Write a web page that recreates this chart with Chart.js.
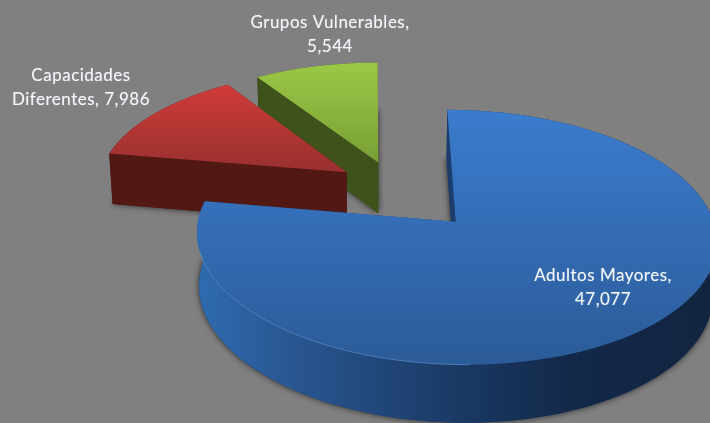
<!DOCTYPE html>
<html>
<head>
<meta charset="utf-8">
<script src="https://cdn.jsdelivr.net/npm/chart.js@4"></script>
<style>
  html, body { margin: 0; padding: 0; background: #808080; }
  canvas { display: block; }
</style>
</head>
<body>
<canvas id="chart" width="710" height="423"></canvas>
<script>
const categories = ['Adultos Mayores', 'Capacidades Diferentes', 'Grupos Vulnerables'];
const values = [47077, 7986, 5544];

const topColors = [['#3b7cce', '#2b5b98'], ['#d03c39', '#97302f'], ['#9cc846', '#789f35']];
const wallColors = ['#1b3d6c', '#521814', '#40521c'];
const labelLines = [
  ['Adultos Mayores,', '47,077'],
  ['Capacidades', 'Diferentes, 7,986'],
  ['Grupos Vulnerables,', '5,544']
];
const labelSpots = [[603, 276], [81, 76], [330, 23]];
const sliceNudge = [[0, 0], [3.5, -2.5], [-5.5, 1.5]];

// screen mapping of the pie plane, fitted by hand to the tilted view
const VX = 378, AX = 455, AY = 222, SX = 258, SY = 125.6, PERSP = 0.1215;
const DEPTH = 53, SHRINK = 0.988;

function project(u, v, low, nudge) {
  const uu = u - 0.19, vv = v + 0.23;
  const f = 1 / (1 + PERSP * vv);
  let x = VX + (AX - VX + SX * uu) * f + nudge[0];
  let y = AY - SY * vv * f + nudge[1];
  if (low) {
    x = VX + (x - VX) * SHRINK;
    y += DEPTH * Math.pow(f, 0.7);
  }
  return [x, y];
}

function tracePath(ctx, pts) {
  ctx.beginPath();
  pts.forEach((p, i) => (i ? ctx.lineTo(p[0], p[1]) : ctx.moveTo(p[0], p[1])));
  ctx.closePath();
}

function rimPoints(arc, low, nudge) {
  const { startAngle, endAngle, outerRadius } = arc.getProps(['startAngle', 'endAngle', 'outerRadius'], true);
  const mid = (startAngle + endAngle) / 2;
  const off = arc.options.offset / outerRadius;
  const ox = Math.cos(mid) * off, oy = -Math.sin(mid) * off;
  const pts = [];
  for (let i = 0; i <= 120; i++) {
    const a = startAngle + (endAngle - startAngle) * i / 120;
    pts.push(project(ox + Math.cos(a), oy - Math.sin(a), low, nudge));
  }
  return { pts, apex: project(ox, oy, low, nudge), ox, oy, startAngle, endAngle };
}

const pie3d = {
  id: 'pie3d',
  beforeDatasetDraw(chart) {
    const { ctx } = chart;
    const arcs = chart.getDatasetMeta(0).data;
    // far slices first, blue sits in front
    [2, 1, 0].forEach((i) => {
      const up = rimPoints(arcs[i], false, sliceNudge[i]);
      const down = rimPoints(arcs[i], true, sliceNudge[i]);
      const first = up.pts[0], last = up.pts[120];
      const firstLow = down.pts[0], lastLow = down.pts[120];

      // bottom face casts the soft shadow
      ctx.save();
      ctx.shadowColor = 'rgba(0,0,0,0.7)';
      ctx.shadowBlur = 6;
      ctx.fillStyle = wallColors[i];
      tracePath(ctx, [down.apex, ...down.pts]);
      ctx.fill();
      ctx.restore();

      // outer rim
      let rim = wallColors[i];
      if (i === 0) {
        rim = ctx.createLinearGradient(197, 0, 710, 0);
        rim.addColorStop(0, '#2f6bb0');
        rim.addColorStop(0.2, '#28558f');
        rim.addColorStop(0.5, '#1a3a66');
        rim.addColorStop(0.72, '#13294a');
        rim.addColorStop(1, '#12243f');
      }
      ctx.fillStyle = rim;
      tracePath(ctx, [...up.pts, ...down.pts.slice().reverse()]);
      ctx.fill();

      // cut faces, further one first
      const walls = [[first, firstLow], [last, lastLow]];
      const angles = [up.startAngle, up.endAngle];
      const order = [0, 1].sort((a, b) => Math.sin(angles[a]) - Math.sin(angles[b]));
      order.forEach((w) => {
        ctx.fillStyle = wallColors[i];
        tracePath(ctx, [up.apex, walls[w][0], walls[w][1], down.apex]);
        ctx.fill();
      });

      // top face
      const ys = up.pts.map((p) => p[1]).concat(up.apex[1]);
      const grad = ctx.createLinearGradient(0, Math.min(...ys), 0, Math.max(...ys));
      grad.addColorStop(0, topColors[i][0]);
      grad.addColorStop(1, topColors[i][1]);
      ctx.fillStyle = grad;
      tracePath(ctx, [up.apex, ...up.pts]);
      ctx.fill();

      // bright lip on the front of the blue slice
      if (i === 0) {
        ctx.strokeStyle = 'rgba(120,170,235,0.45)';
        ctx.lineWidth = 1;
        ctx.beginPath();
        up.pts.forEach((p) => {
          if (p[1] > 250 && p[0] < 470) ctx.lineTo(p[0], p[1]);
        });
        ctx.stroke();
      }
    });
    return false;
  },
  afterDatasetsDraw(chart) {
    const { ctx } = chart;
    ctx.save();
    ctx.font = '17px Lato';
    ctx.letterSpacing = '0.5px';
    ctx.fillStyle = '#f2f5fa';
    ctx.shadowColor = 'rgba(235,240,250,0.5)';
    ctx.shadowBlur = 1;
    ctx.textAlign = 'center';
    ctx.textBaseline = 'middle';
    labelLines.forEach((lines, i) => {
      lines.forEach((line, k) => {
        ctx.fillText(line, labelSpots[i][0], labelSpots[i][1] + k * 23.5);
      });
    });
    ctx.restore();
  }
};

new Chart(document.getElementById('chart'), {
  type: 'pie',
  data: {
    labels: categories,
    datasets: [{
      data: values,
      backgroundColor: topColors.map((c) => c[0]),
      borderWidth: 0,
      offset: 55
    }]
  },
  options: {
    responsive: false,
    animation: false,
    events: [],
    layout: { padding: 0 },
    plugins: { legend: { display: false }, tooltip: { enabled: false } }
  },
  plugins: [pie3d]
});
</script>
</body>
</html>
